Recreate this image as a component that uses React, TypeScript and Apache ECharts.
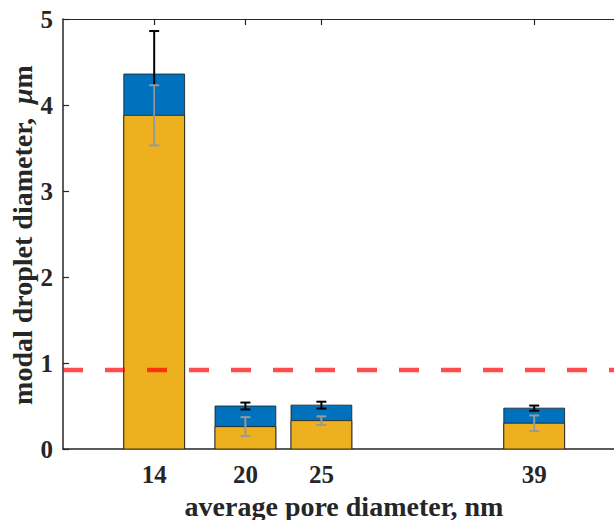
import React, { useEffect, useRef } from "react";
import * as echarts from "echarts";

// ---- data ----
const poreDiameters = [14, 20, 25, 39]; // nm
const totalDroplet = [4.36, 0.5, 0.51, 0.475]; // µm (blue)
const totalError = [0.5, 0.04, 0.04, 0.03];
const coreDroplet = [3.88, 0.26, 0.33, 0.3]; // µm (yellow)
const coreError = [0.35, 0.11, 0.05, 0.09];
const thresholdLevel = 0.92;
const xRange = [8, 44.25]; // visible part of the x axis
const yTickValues = [0, 1, 2, 3, 4, 5];

const BAR_WIDTH = 4; // in axis units (nm)
const FONT = "'Liberation Serif', 'Times New Roman', serif";
const AXIS_COLOR = "#262626";

function barRender(fill: string) {
  return (params: any, api: any) => {
    const x = api.value(0);
    const y = api.value(1);
    const p0 = api.coord([x - BAR_WIDTH / 2, 0]);
    const p1 = api.coord([x + BAR_WIDTH / 2, y]);
    return {
      type: "rect",
      shape: { x: p0[0], y: p1[1], width: p1[0] - p0[0], height: p0[1] - p1[1] },
      style: { fill, stroke: "#1a1a1a", lineWidth: 0.8 },
    };
  };
}

function errRender(color: string) {
  return (params: any, api: any) => {
    const x = api.value(0);
    const y = api.value(1);
    const e = api.value(2);
    const top = api.coord([x, y + e]);
    const bot = api.coord([x, y - e]);
    const cap = 5;
    const style = { stroke: color, lineWidth: 2 };
    return {
      type: "group",
      children: [
        { type: "line", shape: { x1: top[0], y1: top[1], x2: bot[0], y2: bot[1] }, style },
        { type: "line", shape: { x1: top[0] - cap, y1: top[1], x2: top[0] + cap, y2: top[1] }, style },
        { type: "line", shape: { x1: bot[0] - cap, y1: bot[1], x2: bot[0] + cap, y2: bot[1] }, style },
      ],
    };
  };
}

export default function App() {
  const ref = useRef<HTMLDivElement>(null);
  useEffect(() => {
    if (!ref.current) return;
    const chart = echarts.init(ref.current, undefined, { renderer: "svg" });
    const totalData = poreDiameters.map((x, i) => [x, totalDroplet[i], totalError[i]]);
    const coreData = poreDiameters.map((x, i) => [x, coreDroplet[i], coreError[i]]);
    const tickStyle = { show: true, inside: true, length: 6, lineStyle: { color: AXIS_COLOR, width: 1.2 } };
    chart.setOption({
      animation: false,
      backgroundColor: "#ffffff",
      grid: { left: 63, top: 19, right: 0, bottom: 71, containLabel: false },
      xAxis: [
        {
          type: "value",
          min: xRange[0],
          max: xRange[1],
          position: "bottom",
          axisLine: { show: true, onZero: false, lineStyle: { color: AXIS_COLOR, width: 1.5 } },
          axisTick: { ...tickStyle, customValues: poreDiameters },
          axisLabel: {
            customValues: poreDiameters,
            color: AXIS_COLOR,
            fontFamily: FONT,
            fontWeight: "bold",
            fontSize: 25,
            margin: 13,
          },
          splitLine: { show: false },
        },
        {
          type: "value",
          min: xRange[0],
          max: xRange[1],
          position: "top",
          axisLine: { show: true, onZero: false, lineStyle: { color: AXIS_COLOR, width: 1.2 } },
          axisTick: { ...tickStyle, customValues: poreDiameters },
          axisLabel: { show: false },
          splitLine: { show: false },
        },
      ],
      yAxis: {
        type: "value",
        min: 0,
        max: 5,
        interval: 1,
        axisLine: { show: true, onZero: false, lineStyle: { color: AXIS_COLOR, width: 1.5 } },
        axisTick: { ...tickStyle, customValues: yTickValues },
        axisLabel: {
          customValues: yTickValues,
          color: AXIS_COLOR,
          fontFamily: FONT,
          fontWeight: "bold",
          fontSize: 25,
          margin: 10,
        },
        splitLine: { show: false },
      },
      graphic: [
        {
          type: "text",
          x: 344,
          y: 506,
          style: {
            text: "average pore diameter, nm",
            fontFamily: FONT,
            fontWeight: "bold",
            fontSize: 28,
            fill: AXIS_COLOR,
            align: "center",
            verticalAlign: "middle",
          },
        },
        {
          type: "text",
          x: 22,
          y: 235,
          rotation: Math.PI / 2,
          style: {
            text: "{a|modal droplet diameter,  }{b|μ}{a|m}",
            fill: AXIS_COLOR,
            align: "center",
            verticalAlign: "middle",
            rich: {
              a: { fontFamily: FONT, fontWeight: "bold", fontSize: 28, fill: AXIS_COLOR },
              b: { fontFamily: FONT, fontWeight: "bold", fontStyle: "italic", fontSize: 28, fill: AXIS_COLOR },
            },
          },
        },
      ],
      series: [
        { type: "custom", name: "total", renderItem: barRender("#0072BD"), data: totalData, clip: true },
        { type: "custom", name: "total error", renderItem: errRender("#000000"), data: totalData, clip: true },
        { type: "custom", name: "core", renderItem: barRender("#EDB120"), data: coreData, clip: true },
        { type: "custom", name: "core error", renderItem: errRender("#999999"), data: coreData, clip: true },
        {
          type: "line",
          name: "threshold",
          data: [
            [xRange[0], thresholdLevel],
            [xRange[1], thresholdLevel],
          ],
          symbol: "none",
          lineStyle: { color: "rgba(255,0,0,0.7)", width: 4.5, type: [20, 22] },
          silent: true,
        },
      ],
    });
    return () => chart.dispose();
  }, []);
  return (
    <div
      ref={ref}
      style={{ position: "fixed", left: 0, top: 0, width: 614, height: 520, overflow: "hidden" }}
    />
  );
}
